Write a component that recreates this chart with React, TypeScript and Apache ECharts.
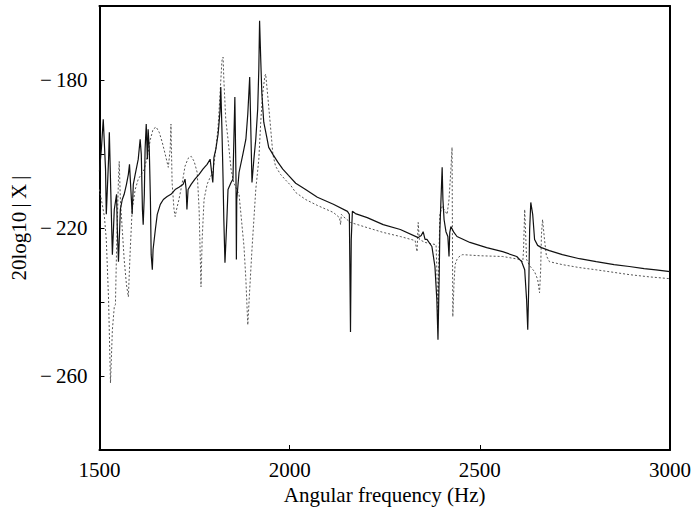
import React, { useEffect, useRef } from "react";
import * as echarts from "echarts";

// Solid (black) response: frequency (Hz) and magnitude (dB)
const solidFreq = [1500,1505,1510,1516,1518,1524,1526,1529,1534,1539,1545,1547,1550,1555,1560,1565,1571,1576,1579,1584,1586,1589,1594,1602,1607,1610,1613,1615,1618,1620,1623,1626,1628,1631,1634,1636,1639,1641,1647,1652,1660,1668,1678,1688,1699,1709,1720,1725,1728,1730,1733,1741,1751,1762,1772,1783,1791,1798,1801,1806,1812,1817,1819,1822,1825,1827,1830,1835,1838,1846,1851,1856,1859,1860,1861,1867,1877,1885,1890,1895,1901,1906,1911,1916,1919,1921,1924,1927,1932,1940,1945,1956,1969,1982,1997,2016,2042,2073,2115,2152,2157,2160,2162,2165,2173,2204,2246,2291,2338,2346,2351,2356,2361,2374,2382,2387,2390,2393,2395,2401,2403,2406,2411,2416,2419,2421,2424,2432,2440,2474,2518,2560,2597,2610,2618,2623,2626,2629,2631,2634,2639,2644,2652,2662,2683,2717,2762,2806,2853,2893,2932,2963,3000];
const solidDb = [-204.7,-198.7,-190.6,-204.1,-216.3,-201.4,-194.1,-206.8,-227.2,-215.0,-210.9,-220.4,-229.1,-215.0,-212.3,-210.9,-208.2,-205.5,-202.8,-212.3,-216.3,-208.2,-205.5,-201.4,-196.0,-200.1,-215.0,-219.1,-210.9,-198.7,-191.9,-201.4,-193.3,-198.7,-212.3,-227.2,-231.3,-225.8,-220.4,-216.3,-213.6,-212.3,-211.5,-210.9,-209.6,-209.0,-208.2,-206.8,-209.6,-215.0,-209.6,-208.2,-206.8,-205.5,-204.1,-202.8,-201.4,-207.7,-200.9,-198.7,-194.6,-188.4,-181.9,-193.3,-206.8,-217.7,-229.4,-217.7,-209.6,-207.7,-206.8,-184.6,-206.8,-228.5,-212.3,-205.0,-200.1,-196.0,-189.2,-179.2,-207.7,-201.4,-196.0,-187.9,-177.0,-164.0,-174.3,-183.8,-191.4,-195.5,-198.2,-200.1,-202.2,-204.1,-205.8,-207.9,-209.6,-211.7,-213.6,-215.5,-216.3,-248.1,-223.1,-215.5,-216.1,-217.2,-219.1,-220.4,-222.6,-222.0,-221.0,-223.1,-223.1,-225.0,-230.4,-239.4,-250.2,-234.0,-220.4,-203.6,-212.3,-217.7,-221.0,-222.3,-227.7,-221.2,-219.6,-221.2,-222.3,-223.9,-225.3,-226.4,-227.7,-229.1,-231.3,-239.4,-247.5,-234.0,-220.4,-213.1,-216.3,-223.1,-224.7,-225.3,-226.1,-227.2,-228.3,-229.1,-229.9,-230.4,-231.0,-231.3,-231.8];

// Dashed (grey) response
const dashFreq = [1500,1505,1513,1518,1524,1529,1534,1539,1542,1545,1550,1552,1555,1560,1565,1571,1576,1581,1586,1594,1602,1610,1618,1626,1634,1641,1649,1657,1665,1673,1681,1686,1688,1691,1696,1699,1704,1709,1717,1725,1733,1741,1749,1757,1762,1767,1770,1775,1783,1791,1798,1806,1812,1817,1822,1825,1827,1832,1838,1846,1853,1861,1867,1872,1880,1885,1890,1895,1901,1906,1911,1919,1924,1929,1935,1937,1942,1948,1956,1963,1976,1990,2003,2016,2042,2073,2115,2131,2134,2136,2141,2160,2204,2246,2291,2330,2333,2335,2338,2341,2356,2369,2385,2387,2390,2393,2395,2401,2406,2414,2419,2424,2427,2429,2432,2435,2440,2448,2455,2500,2560,2605,2613,2615,2618,2621,2623,2631,2644,2652,2657,2660,2662,2665,2670,2675,2683,2717,2762,2806,2893,2945,3000];
const dashDb = [-209.6,-212.3,-216.9,-223.1,-239.4,-261.9,-247.5,-241.3,-240.7,-225.8,-206.8,-202.0,-212.3,-220.4,-228.5,-235.3,-238.6,-225.8,-215.0,-209.6,-206.8,-205.5,-204.1,-200.6,-196.0,-193.3,-192.7,-194.1,-196.8,-200.1,-203.6,-198.7,-191.9,-207.7,-215.0,-216.9,-214.4,-212.3,-208.2,-203.3,-201.2,-200.6,-202.0,-205.0,-215.0,-235.9,-223.1,-212.3,-208.2,-206.3,-205.0,-198.7,-192.5,-183.8,-174.8,-173.8,-179.7,-190.6,-196.0,-204.1,-207.7,-209.6,-210.9,-216.3,-225.0,-234.0,-246.2,-236.7,-225.8,-217.7,-209.6,-201.4,-191.4,-183.8,-178.9,-178.4,-183.8,-190.6,-200.1,-203.3,-205.5,-207.1,-208.5,-210.4,-212.3,-213.9,-215.8,-217.2,-219.1,-216.3,-216.9,-218.5,-219.9,-221.2,-222.3,-223.4,-225.3,-226.4,-218.5,-223.1,-223.9,-224.2,-224.5,-231.3,-242.9,-225.8,-216.3,-214.2,-215.0,-216.3,-212.3,-204.1,-198.2,-244.0,-235.3,-229.9,-228.5,-227.5,-227.2,-227.5,-227.7,-228.5,-229.1,-225.8,-215.0,-223.1,-228.5,-230.2,-231.8,-233.9,-237.5,-231.3,-221.8,-217.7,-223.1,-227.5,-229.1,-229.9,-230.7,-231.3,-232.6,-233.2,-233.7];

const xTicks = [1500, 2000, 2500, 3000];
const yLabeled = [-180, -220, -260];

export default function App() {
  const ref = useRef<HTMLDivElement>(null);
  useEffect(() => {
    if (!ref.current) return;
    const chart = echarts.init(ref.current, undefined, { renderer: "svg" });
    const font = "'Liberation Serif', 'Times New Roman', serif";
    const solid = solidFreq.map((f, i) => [f, solidDb[i]]);
    const dash = dashFreq.map((f, i) => [f, dashDb[i]]);
    const boxAxis = {
      type: "value",
      axisLine: { show: true, onZero: false, lineStyle: { color: "#000", width: 2 } },
      axisTick: { show: false },
      axisLabel: { show: false },
      splitLine: { show: false },
    };
    chart.setOption({
      animation: false,
      backgroundColor: "#ffffff",
      grid: {
        left: 98,
        right: 23,
        top: 6,
        bottom: 65,
      },
      xAxis: [
        {
          type: "value",
          min: 1500,
          max: 3000,
          interval: 500,
          name: "Angular frequency (Hz)",
          nameLocation: "middle",
          nameGap: 34,
          nameTextStyle: { fontFamily: font, fontSize: 21, color: "#000" },
          axisLine: { show: true, onZero: false, lineStyle: { color: "#000", width: 2 } },
          axisTick: { show: true, inside: true, length: 5, lineStyle: { color: "#000", width: 1 } },
          axisLabel: {
            fontFamily: font,
            fontSize: 21,
            color: "#000",
            margin: 9,
            formatter: (v: number) => (xTicks.includes(v) ? String(v) : ""),
          },
          splitLine: { show: false },
        },
        { ...boxAxis, position: "top", min: 1500, max: 3000 },
      ],
      yAxis: [
        {
          type: "value",
          min: -280,
          max: -160,
          interval: 20,
          name: "20log10\u2009|\u2009X\u2009|",
          nameLocation: "middle",
          nameGap: 69,
          nameRotate: 90,
          nameTextStyle: { fontFamily: font, fontSize: 21, color: "#000" },
          axisLine: { show: true, onZero: false, lineStyle: { color: "#000", width: 2 } },
          axisTick: { show: true, inside: true, length: 5, lineStyle: { color: "#000", width: 1 } },
          axisLabel: {
            fontFamily: font,
            fontSize: 21,
            color: "#000",
            margin: 12,
            formatter: (v: number) => (yLabeled.includes(v) ? "\u2212\u2009" + Math.abs(v) : ""),
          },
          splitLine: { show: false },
        },
        { ...boxAxis, position: "right", min: -280, max: -160 },
      ],
      series: [
        {
          type: "line",
          data: dash,
          showSymbol: false,
          symbol: "none",
          lineStyle: { color: "#555", width: 1, type: [2, 2] },
          z: 2,
        },
        {
          type: "line",
          data: solid,
          showSymbol: false,
          symbol: "none",
          lineStyle: { color: "#111", width: 1.2 },
          z: 3,
        },
      ],
    });
    return () => chart.dispose();
  }, []);
  return (
    <div
      ref={ref}
      style={{ position: "absolute", left: 0, top: 0, width: 694, height: 515 }}
    />
  );
}
